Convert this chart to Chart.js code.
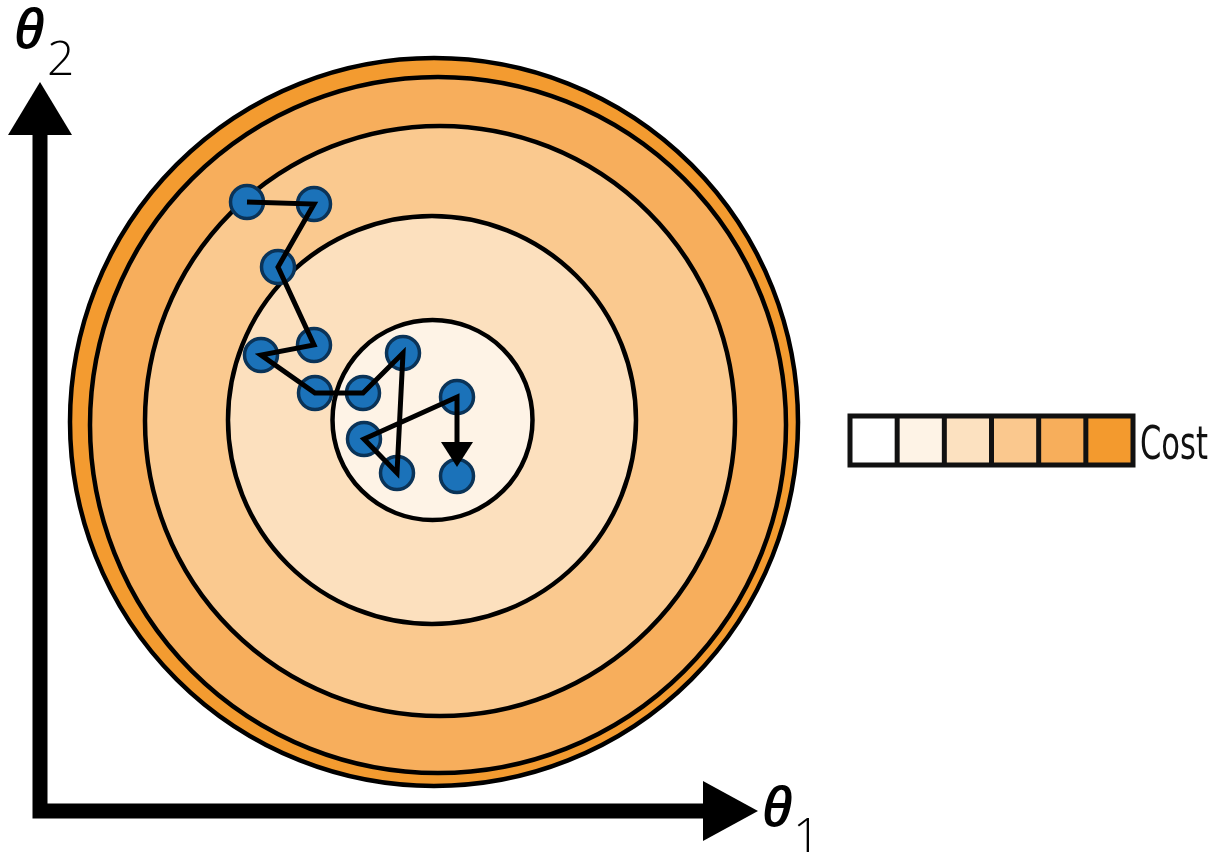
<!DOCTYPE html>
<html>
<head>
<meta charset="utf-8">
<script src="https://cdn.jsdelivr.net/npm/chart.js@4"></script>
<style>
  html, body { margin: 0; padding: 0; background: #fff; }
  #wrap { width: 1221px; height: 853px; }
</style>
</head>
<body>
<div id="wrap"><canvas id="chart" width="1221" height="853"></canvas></div>
<script>
// gradient descent steps (theta1, theta2)
const stepsX = [20.7, 27.4, 23.8, 27.4, 22.1, 27.5, 32.3, 36.3, 35.7, 32.4, 41.7, 41.7];
const stepsY = [60.9, 60.7, 54.4, 46.6, 45.6, 41.8, 41.8, 45.8, 33.8, 37.2, 41.4, 33.5];

// cost contours, outer to inner
const contourX = [39.4, 39.8, 40.0, 39.2, 39.25];
const contourY = [38.9, 38.6, 39.0, 39.1, 39.1];
const contourR = [36.4, 34.8, 29.5, 20.4, 10.0];
const contourFill = ["#f39b30", "#f7ae5c", "#fac98f", "#fce0be", "#fef3e6"];

// colour bar, low to high cost
const costColors = ["#ffffff", "#fef3e6", "#fce1c0", "#fac88e", "#f7ae5b", "#f39a2e"];
const costLabel = "Cost";

const points = stepsX.map((x, i) => ({ x: x, y: stepsY[i] }));

const drawing = {
  id: "drawing",
  beforeDatasetsDraw(chart) {
    const ctx = chart.ctx;
    const xs = chart.scales.x, ys = chart.scales.y;
    const rad = (cx, r) => xs.getPixelForValue(cx + r) - xs.getPixelForValue(cx);
    ctx.save();
    // filled contour bands
    contourR.forEach((r, i) => {
      ctx.beginPath();
      ctx.arc(xs.getPixelForValue(contourX[i]), ys.getPixelForValue(contourY[i]),
              rad(contourX[i], r), 0, Math.PI * 2);
      ctx.fillStyle = contourFill[i];
      ctx.fill();
    });
    ctx.lineWidth = 4.5;
    ctx.strokeStyle = "#000";
    contourR.forEach((r, i) => {
      ctx.beginPath();
      ctx.arc(xs.getPixelForValue(contourX[i]), ys.getPixelForValue(contourY[i]),
              rad(contourX[i], r), 0, Math.PI * 2);
      ctx.stroke();
    });

    // axes with arrow heads
    const ox = xs.getPixelForValue(0), oy = ys.getPixelForValue(0);
    ctx.lineWidth = 15;
    ctx.lineJoin = "miter";
    ctx.beginPath();
    ctx.moveTo(ox, 130);
    ctx.lineTo(ox, oy);
    ctx.lineTo(708, oy);
    ctx.stroke();
    ctx.fillStyle = "#000";
    ctx.beginPath();
    ctx.moveTo(ox, 82); ctx.lineTo(ox - 32, 135); ctx.lineTo(ox + 32, 135);
    ctx.closePath(); ctx.fill();
    ctx.beginPath();
    ctx.moveTo(758, oy); ctx.lineTo(703, oy - 30); ctx.lineTo(703, oy + 30);
    ctx.closePath(); ctx.fill();

    // axis titles
    ctx.textBaseline = "alphabetic";
    ctx.font = "italic 600 54px 'Open Sans'";
    ctx.fillText("θ", 14, 48);
    ctx.font = "300 48px 'Open Sans'";
    ctx.fillText("2", 47, 75);
    ctx.font = "italic 600 54px 'Open Sans'";
    ctx.fillText("θ", 762, 826);
    ctx.font = "300 48px 'Open Sans'";
    ctx.fillText("1", 793, 852);

    // colour bar
    const bx = 850, by = 416, bw = 283, bh = 49;
    const cw = bw / costColors.length;
    costColors.forEach((c, i) => {
      ctx.fillStyle = c;
      ctx.fillRect(bx + i * cw, by, cw, bh);
    });
    ctx.lineWidth = 5;
    ctx.strokeStyle = "#111";
    ctx.strokeRect(bx, by, bw, bh);
    for (let i = 1; i < costColors.length; i++) {
      ctx.beginPath();
      ctx.moveTo(bx + i * cw, by);
      ctx.lineTo(bx + i * cw, by + bh);
      ctx.stroke();
    }
    ctx.fillStyle = "#111";
    ctx.font = "46px 'Liberation Sans Narrow', 'DejaVu Sans Condensed', sans-serif";
    const tw = ctx.measureText(costLabel).width;
    ctx.save();
    ctx.translate(1140, 459);
    ctx.scale(68 / tw, 1);
    ctx.fillText(costLabel, 0, 0);
    ctx.restore();
    ctx.restore();
  },
  afterDatasetsDraw(chart) {
    // arrow head on the last step
    const ctx = chart.ctx;
    const xs = chart.scales.x, ys = chart.scales.y;
    const n = stepsX.length;
    const px = xs.getPixelForValue(stepsX[n - 1]);
    const tip = ys.getPixelForValue(stepsY[n - 1]) - 9;
    ctx.save();
    ctx.fillStyle = "#000";
    ctx.beginPath();
    ctx.moveTo(px, tip);
    ctx.lineTo(px - 16, tip - 25);
    ctx.lineTo(px + 16, tip - 25);
    ctx.closePath();
    ctx.fill();
    ctx.restore();
  }
};

new Chart(document.getElementById("chart"), {
  type: "scatter",
  data: {
    datasets: [
      {
        data: points.slice(0, -1).concat([{ x: stepsX[stepsX.length - 1], y: stepsY[stepsY.length - 1] + 2.2 }]),
        showLine: true,
        borderColor: "#000",
        borderWidth: 5,
        pointRadius: 0,
        order: 0
      },
      {
        data: points,
        showLine: false,
        pointRadius: 16.5,
        pointBackgroundColor: "#1b72b9",
        pointBorderColor: "#0a3358",
        pointBorderWidth: 3.5,
        order: 1
      }
    ]
  },
  options: {
    responsive: false,
    animation: false,
    devicePixelRatio: 1,
    layout: { padding: 0, autoPadding: false },
    plugins: { legend: { display: false }, tooltip: { enabled: false } },
    scales: {
      x: { type: "linear", min: -4, max: 118.1, display: false },
      y: { type: "linear", min: -4.2, max: 81.1, display: false }
    }
  },
  plugins: [drawing]
});
</script>
</body>
</html>
